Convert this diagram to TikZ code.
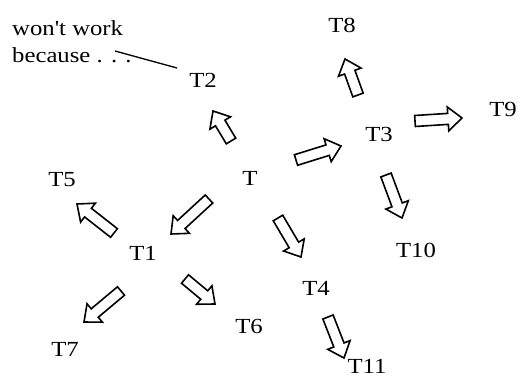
\documentclass[tikz,border=0pt]{standalone}
\usepackage{graphicx}
\usepackage{fontspec}
\setmainfont{Liberation Serif}
\usetikzlibrary{calc}
\newcommand\sx[1]{\scalebox{1.15}[1]{#1}}
\tikzset{
  lbl/.style={inner sep=0pt, font=\fontsize{21.5}{27.3}\selectfont},
  blockarr/.style={draw=black, fill=white, line width=1.6pt, line join=miter},
  noteline/.style={draw=black, line width=1.3pt}
}
\newcommand\barrow[2]{%
  \coordinate (hb) at ($(#2)!14pt!(#1)$);
  \draw[blockarr] ($(#1)!5.5pt!90:(#2)$) -- ($(hb)!5.5pt!90:(#2)$) -- ($(hb)!12pt!90:(#2)$) -- (#2)
     -- ($(hb)!12pt!-90:(#2)$) -- ($(hb)!5.5pt!-90:(#2)$) -- ($(#1)!5.5pt!-90:(#2)$) -- cycle;}
\begin{document}
\begin{tikzpicture}[x=1pt,y=-1pt]
\useasboundingbox (0,0) rectangle (518,379);
% labels
\node[lbl] (T)   at (250,178) {\sx{T}};
\node[lbl] (T1)  at (143,253) {\sx{T1}};
\node[lbl] (T2)  at (203,80)  {\sx{T2}};
\node[lbl] (T3)  at (379,134) {\sx{T3}};
\node[lbl] (T4)  at (316,288) {\sx{T4}};
\node[lbl] (T5)  at (62,180)  {\sx{T5}};
\node[lbl] (T6)  at (249,326) {\sx{T6}};
\node[lbl] (T7)  at (65,349)  {\sx{T7}};
\node[lbl] (T8)  at (342,25)  {\sx{T8}};
\node[lbl] (T9)  at (503,109) {\sx{T9}};
\node[lbl] (T10) at (416,250) {\sx{T10}};
\node[lbl] (T11) at (367,366.5) {\sx{T11}};
\node[lbl, anchor=base west] (note) at (12,35.7) {\sx{\begin{tabular}[t]{@{}l@{}}won\textquotesingle t work\\because . . .\end{tabular}}};
% arrow end points
\coordinate (a1s) at (231,141); \coordinate (a1e) at (213,111);
\coordinate (a2s) at (296,160); \coordinate (a2e) at (341,146);
\coordinate (a3s) at (358,95);  \coordinate (a3e) at (345,59);
\coordinate (a4s) at (415,121); \coordinate (a4e) at (462,118);
\coordinate (a5s) at (386,175); \coordinate (a5e) at (402,218);
\coordinate (a6s) at (278,218); \coordinate (a6e) at (301,257);
\coordinate (a7s) at (209,199); \coordinate (a7e) at (171,234);
\coordinate (a8s) at (114,233); \coordinate (a8e) at (77,204);
\coordinate (a9s) at (121,291); \coordinate (a9e) at (84,322);
\coordinate (a10s) at (185,279); \coordinate (a10e) at (215,304);
\coordinate (a11s) at (328,317); \coordinate (a11e) at (344,358);
\barrow{a1s}{a1e}
\barrow{a2s}{a2e}
\barrow{a3s}{a3e}
\barrow{a4s}{a4e}
\barrow{a5s}{a5e}
\barrow{a6s}{a6e}
\barrow{a7s}{a7e}
\barrow{a8s}{a8e}
\barrow{a9s}{a9e}
\barrow{a10s}{a10e}
\barrow{a11s}{a11e}
% note line
\coordinate (nlA) at (115,51);
\coordinate (nlB) at (177,68);
\draw[noteline] (nlA) -- (nlB);
\end{tikzpicture}
\end{document}
